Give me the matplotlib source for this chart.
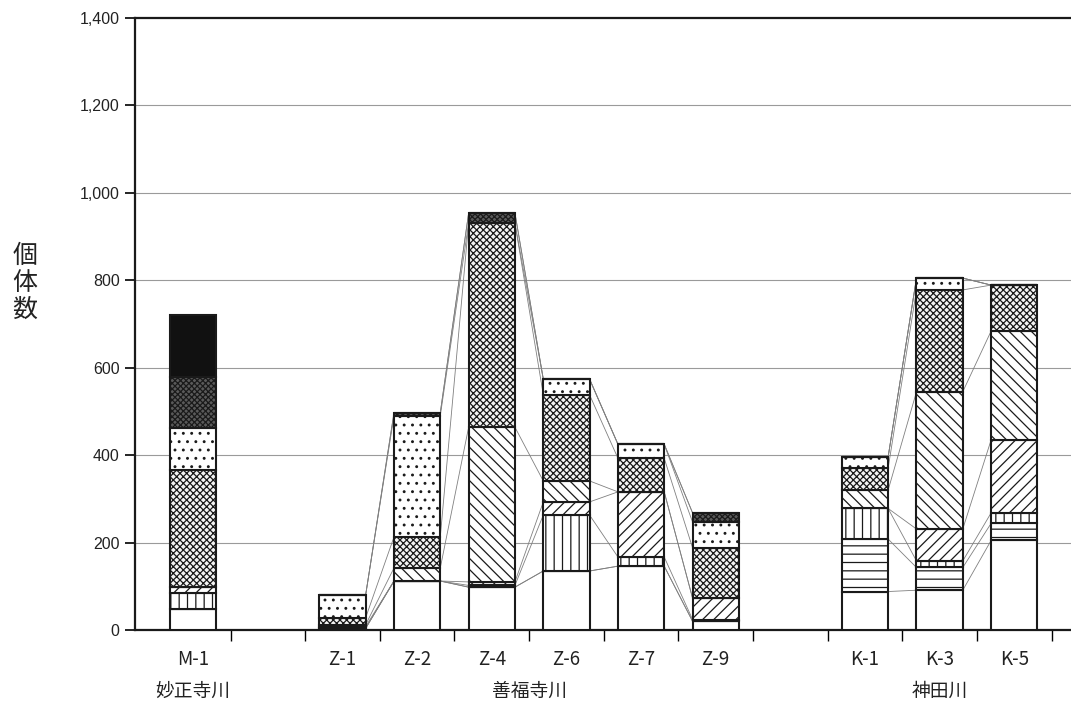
import matplotlib
matplotlib.use("Agg")
import matplotlib.pyplot as plt
import numpy as np

plt.rcParams['font.family'] = ['Liberation Sans', 'Noto Sans CJK JP', 'DejaVu Sans']
plt.rcParams['hatch.linewidth'] = 0.9

# Sampling stations, grouped by river
samples = ['M-1', 'Z-1', 'Z-2', 'Z-4', 'Z-6', 'Z-7', 'Z-9', 'K-1', 'K-3', 'K-5']
rivers = ['妙正寺川', '善福寺川', '神田川']
river_of_sample = [0, 1, 1, 1, 1, 1, 1, 2, 2, 2]

# Individual counts per taxon class (stacked bottom to top)
white_cls   = [48, 4, 112, 98, 135, 146, 20, 88, 91, 205]
horiz_cls   = [0, 0, 0, 0, 0, 0, 0, 120, 52, 39]
vert_cls    = [37, 0, 0, 4, 128, 21, 4, 70, 15, 24]
fslash_cls  = [13, 4, 0, 8, 30, 149, 49, 0, 73, 167]
bslash_cls  = [0, 4, 30, 354, 48, 0, 0, 42, 314, 249]
cross_cls   = [268, 16, 71, 467, 197, 77, 115, 50, 233, 105]
dots_cls    = [96, 52, 277, 0, 36, 32, 59, 26, 27, 0]
dark_cls    = [117, 0, 7, 23, 0, 0, 21, 0, 0, 0]
black_cls   = [141, 0, 0, 0, 0, 0, 0, 0, 0, 0]

yticks = [0, 200, 400, 600, 800, 1000, 1200, 1400]
ylabel = '個\n体\n数'

series = [white_cls, horiz_cls, vert_cls, fslash_cls, bslash_cls,
          cross_cls, dots_cls, dark_cls, black_cls]
styles = [
    dict(facecolor='white', hatch=None),
    dict(facecolor='white', hatch='--'),
    dict(facecolor='white', hatch='||'),
    dict(facecolor='white', hatch='///'),
    dict(facecolor='white', hatch='\\\\\\'),
    dict(facecolor='#f4f4f4', hatch='xxxxx'),
    dict(facecolor='white', hatch='..'),
    dict(facecolor='#5a5a5a', hatch='xxxxxx'),
    dict(facecolor='#111111', hatch=None),
]

# slot layout: one empty slot between river groups
x = []
slot = 0
prev = river_of_sample[0]
for r in river_of_sample:
    if r != prev:
        slot += 1
        prev = r
    x.append(slot)
    slot += 1
x = np.array(x, dtype=float)
width = 0.62

fig = plt.figure(figsize=(10.71, 7.13), dpi=100)
W, H = 1071, 713
ax = fig.add_axes([135 / W, 83 / H, (W - 135) / W, (630 - 18) / H])

ax.set_xlim(-0.78, 11.76)
ax.set_ylim(0, 1400)

for yv in yticks[1:-1]:
    ax.axhline(yv, color='#9a9a9a', lw=0.8, zorder=0)

data = np.array(series, dtype=float)
cum = np.cumsum(data, axis=0)
bottoms = cum - data
for k, st in enumerate(styles):
    ax.bar(x, data[k], width=width, bottom=bottoms[k],
           facecolor=st['facecolor'], hatch=st['hatch'],
           edgecolor='#1a1a1a', linewidth=1.5, zorder=3)

# thin connectors between adjacent stations of the same river
for i in range(len(samples) - 1):
    if river_of_sample[i] != river_of_sample[i + 1]:
        continue
    for k in range(len(series)):
        ax.plot([x[i] + width / 2, x[i + 1] - width / 2],
                [cum[k, i], cum[k, i + 1]],
                color='#808080', lw=0.6, zorder=2)

for side in ['left', 'bottom', 'top']:
    ax.spines[side].set_linewidth(1.6)
    ax.spines[side].set_color('#1a1a1a')
ax.spines['right'].set_visible(False)

ax.set_yticks(yticks)
ax.set_yticklabels([f'{v:,}' for v in yticks], fontsize=11.5, color='#222222')
ax.tick_params(axis='y', direction='out', length=7, width=1.2, pad=4)

boundaries = np.arange(0.5, 12.0, 1.0)
ax.set_xticks(boundaries)
ax.set_xticklabels([])
ax.tick_params(axis='x', direction='out', length=8, width=1.0)

xt = ax.get_xaxis_transform()
for xi, name in zip(x, samples):
    ax.text(xi, -0.049, name, transform=xt, ha='center', va='center',
            fontsize=13.5, family=['Noto Sans CJK JP'], color='#222222')

for r, rname in enumerate(rivers):
    xs = [xi for xi, rr in zip(x, river_of_sample) if rr == r]
    xc = (min(xs) + max(xs)) / 2
    ax.text(xc, -0.101, rname, transform=xt, ha='center', va='center',
            fontsize=13.5, family=['Noto Sans CJK JP'], color='#222222')

fig.text(25 / W, (H - 283) / H, ylabel, ha='center', va='center',
         fontsize=18, family=['Noto Sans CJK JP'], linespacing=1.05,
         color='#222222')

fig.savefig('out.png', dpi=100)
